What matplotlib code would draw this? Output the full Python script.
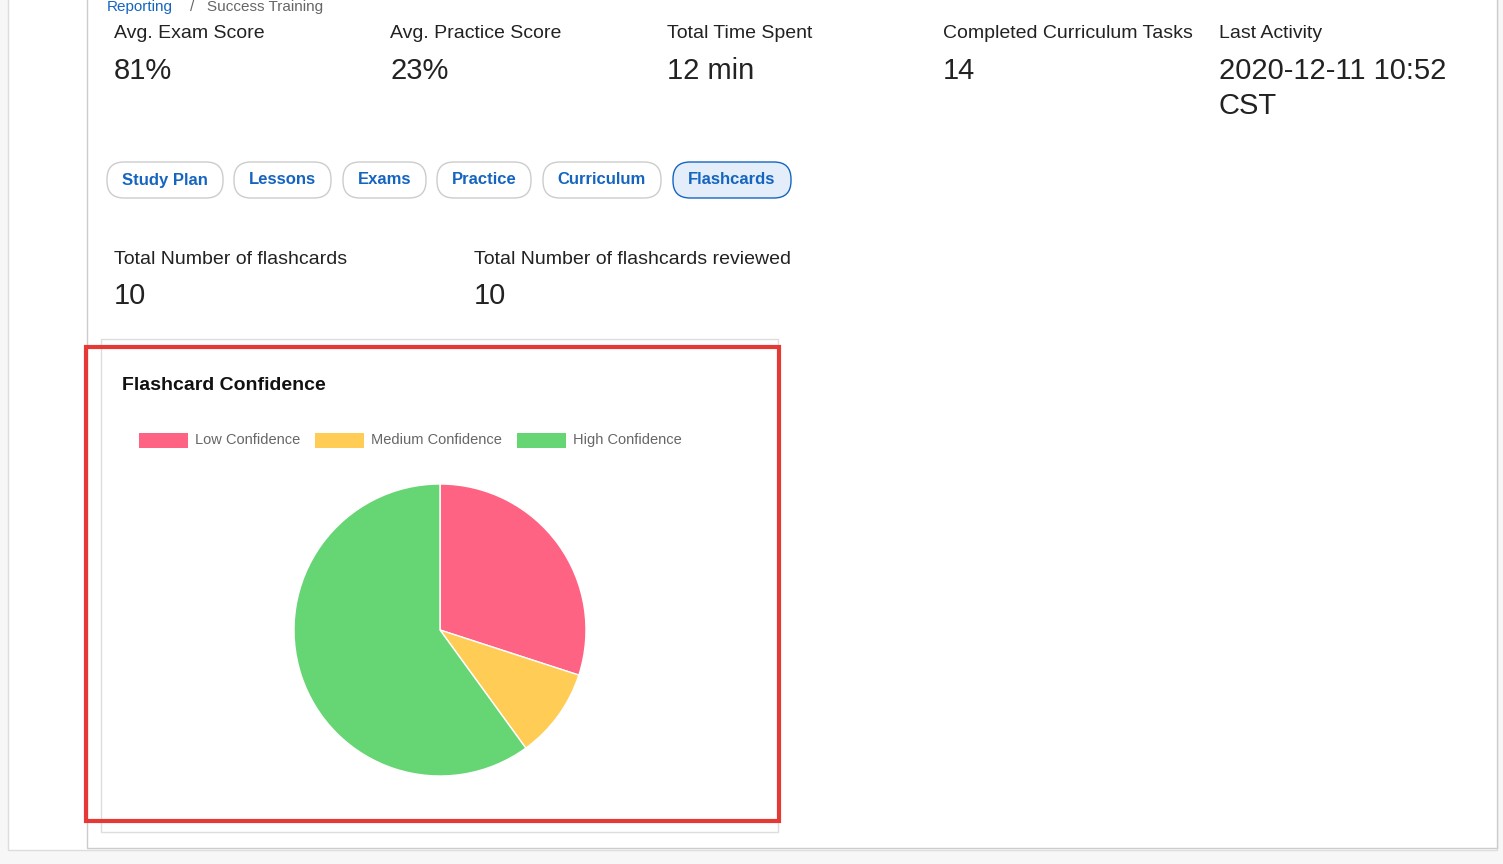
import matplotlib
matplotlib.use("Agg")
import matplotlib.pyplot as plt
from matplotlib.patches import Rectangle, FancyBboxPatch

plt.rcParams["font.family"] = ["Liberation Sans", "DejaVu Sans"]

W, H = 1503, 864

stat_labels = ["Avg. Exam Score", "Avg. Practice Score", "Total Time Spent",
               "Completed Curriculum Tasks", "Last Activity"]
stat_values = ["81%", "23%", "12 min", "14", "2020-12-11 10:52\nCST"]
tabs = ["Study Plan", "Lessons", "Exams", "Practice", "Curriculum", "Flashcards"]
fc_labels = ["Total Number of flashcards", "Total Number of flashcards reviewed"]
fc_values = ["10", "10"]
conf_labels = ["Low Confidence", "Medium Confidence", "High Confidence"]
conf_counts = [3, 1, 6]
conf_colors = ["#ff6384", "#ffcd56", "#66d574"]

fig = plt.figure(figsize=(W / 100, H / 100), dpi=100)
fig.patch.set_facecolor("#f7f7f7")
ax = fig.add_axes([0, 0, 1, 1])
ax.set_xlim(0, W)
ax.set_ylim(H, 0)
ax.axis("off")

# page card
ax.add_patch(Rectangle((8, -10), 1489, 860, fc="white", ec="#dddddd", lw=1))
ax.add_patch(Rectangle((87, -10), 1410, 858, fc="white", ec="#cccccc", lw=1))
ax.text(107, 0, "Reporting", color="#1565c0", fontsize=11, va="top")
ax.text(190, 0, "/   Success Training", color="#666666", fontsize=11, va="top")

# top stats
xs = [114, 390, 667, 943, 1219]
for x, lab, val in zip(xs, stat_labels, stat_values):
    ax.text(x, 33, lab, fontsize=14, color="#222222", va="center")
    ax.text(x, 57, val, fontsize=21, color="#222222", va="top", linespacing=1.3)

# tab pills
tab_x = [107, 234, 343, 437, 543, 673]
tab_w = [116, 97, 83, 94, 118, 118]
for x, w, t in zip(tab_x, tab_w, tabs):
    active = t == "Flashcards"
    ax.add_patch(FancyBboxPatch((x, 162), w, 36,
                                boxstyle="round,pad=0,rounding_size=17",
                                fc="#e3eefa" if active else "white",
                                ec="#1565c0" if active else "#cccccc", lw=1))
    ax.text(x + w / 2, 180, t, fontsize=12, color="#1565c0", weight="bold",
            ha="center", va="center")

# flashcard totals
for x, lab, val in zip([114, 474], fc_labels, fc_values):
    ax.text(x, 259, lab, fontsize=14, color="#222222", va="center")
    ax.text(x, 296, val, fontsize=21, color="#222222", va="center")

# chart card + red highlight
ax.add_patch(Rectangle((101, 339), 677, 493, fc="white", ec="#dddddd", lw=1))
ax.add_patch(Rectangle((86, 347), 693, 474, fc="none", ec="#e53935", lw=3))
ax.text(122, 386, "Flashcard Confidence", fontsize=14, weight="bold",
        color="#111111", va="center")

# legend
leg_x = [139, 315, 517]
for x, lab, c in zip(leg_x, conf_labels, conf_colors):
    ax.add_patch(Rectangle((x, 433), 49, 15, fc=c, ec="none"))
    ax.text(x + 56, 440, lab, fontsize=10.5, color="#666666", va="center")

# pie
cx, cy, r = 440, 630, 146
pax = fig.add_axes([(cx - r) / W, 1 - (cy + r) / H, 2 * r / W, 2 * r / H])
pax.pie(conf_counts, colors=conf_colors, startangle=90, counterclock=False,
        wedgeprops=dict(edgecolor="white", linewidth=1))
pax.set_xlim(-1, 1)
pax.set_ylim(-1, 1)
pax.set_aspect("auto")
pax.axis("off")

fig.savefig("out.png", dpi=100)
